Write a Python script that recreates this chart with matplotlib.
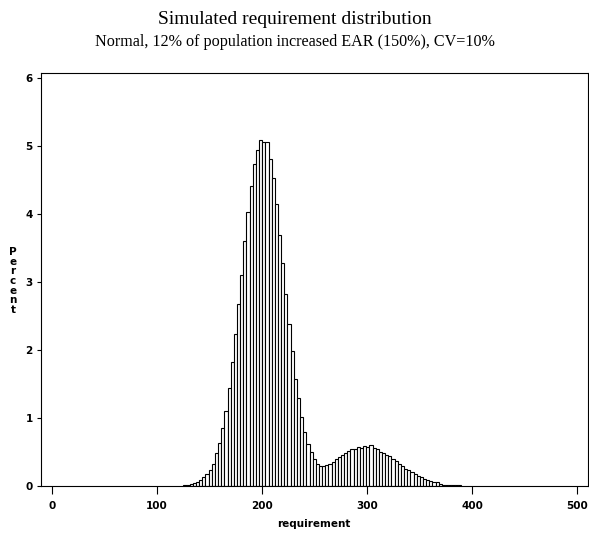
"""Histogram of a simulated requirement distribution (mixture of two normals)."""
import numpy as np
import matplotlib
matplotlib.use("Agg")
import matplotlib.pyplot as plt

OUT = "out.png"

# bin layout: width 3, first left edge at 125
BIN_WIDTH = 3
FIRST_EDGE = 125

# percent of population per bin, left to right
percent = [
    0.01, 0.02, 0.03, 0.04, 0.06, 0.09, 0.13, 0.18, 0.24, 0.32,
    0.49, 0.63, 0.85, 1.11, 1.44, 1.82, 2.24, 2.68, 3.11, 3.61,
    4.04, 4.41, 4.74, 4.95, 5.09,
    5.07, 5.06, 4.82, 4.53, 4.15, 3.70, 3.28, 2.82, 2.38, 1.99,
    1.57, 1.30, 1.01, 0.80, 0.62, 0.50, 0.40, 0.33, 0.30, 0.30,
    0.31, 0.33, 0.35, 0.40, 0.42, 0.45, 0.49, 0.52, 0.54, 0.55,
    0.58, 0.56, 0.59, 0.57, 0.60, 0.56, 0.54, 0.50, 0.48, 0.45,
    0.44, 0.40, 0.37, 0.33, 0.30, 0.25, 0.24, 0.20, 0.17, 0.15,
    0.13, 0.10, 0.09, 0.07, 0.06, 0.06, 0.03, 0.02, 0.02, 0.02,
    0.01, 0.01, 0.01,
]

x_ticks = [0, 100, 200, 300, 400, 500]
y_ticks = [0, 1, 2, 3, 4, 5, 6]

TITLE = "Simulated requirement distribution"
SUBTITLE = "Normal, 12% of population increased EAR (150%), CV=10%"


def main():
    fig = plt.figure(figsize=(5.89, 5.33), dpi=100)
    ax = fig.add_axes([41 / 589, 1 - 486 / 533, 547 / 589, 413 / 533])

    lefts = FIRST_EDGE + BIN_WIDTH * np.arange(len(percent))
    ax.bar(lefts, percent, width=BIN_WIDTH, align="edge",
           color="white", edgecolor="black", linewidth=0.8)

    ax.set_xlim(-10.5, 510)
    ax.set_ylim(0, 6.08)
    ax.set_xticks(x_ticks)
    ax.set_yticks(y_ticks)
    tick_font = dict(family="DejaVu Sans", weight="bold", size=7.5)
    ax.set_xticklabels([str(t) for t in x_ticks], fontdict=tick_font)
    ax.set_yticklabels([str(t) for t in y_ticks], fontdict=tick_font)
    ax.tick_params(axis="x", length=6, width=0.8, pad=5)
    ax.tick_params(axis="y", length=3, width=0.8, pad=3)
    for sp in ax.spines.values():
        sp.set_linewidth(0.8)

    fig.text(314 / 589, 1 - 524 / 533, "requirement",
             ha="center", va="center", **tick_font)
    fig.text(13 / 589, 1 - 281 / 533, "\n".join("Percent"),
             ha="center", va="center", linespacing=0.95, **tick_font)

    fig.text(0.5, 1 - 20 / 533, TITLE, ha="center", va="center",
             family="Liberation Serif", size=14)
    fig.text(0.5, 1 - 42 / 533, SUBTITLE, ha="center", va="center",
             family="Liberation Serif", size=11.6)

    fig.savefig(OUT, dpi=100)


if __name__ == "__main__":
    main()
